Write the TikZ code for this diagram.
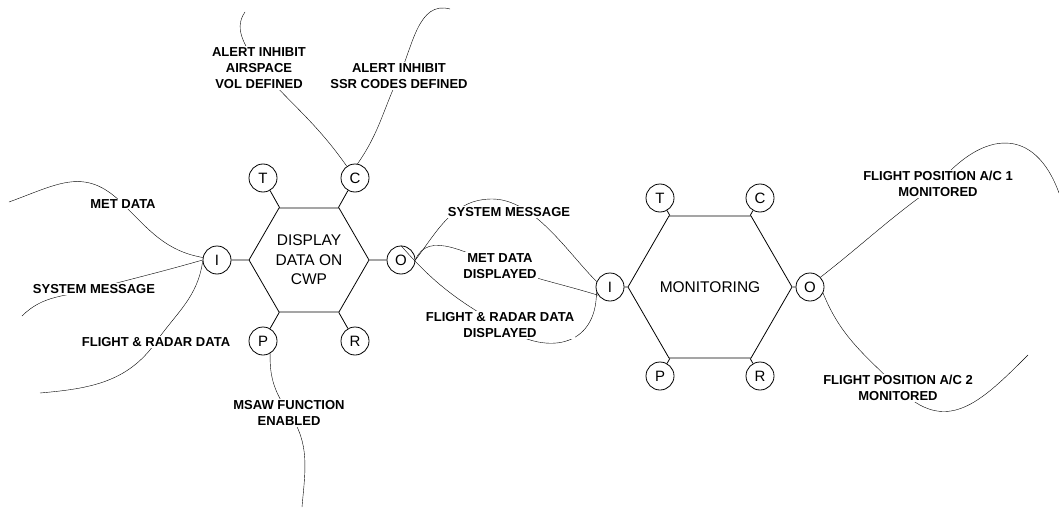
\documentclass[tikz,border=0pt]{standalone}
\usepackage{fontspec}
\setmainfont{Liberation Sans}
\usetikzlibrary{shapes.geometric,backgrounds}

\tikzset{
  func/.style={draw, regular polygon, regular polygon sides=6, inner sep=0pt, align=center, font=\fontsize{15.5}{19.5}\selectfont},
  port/.style={draw, circle, minimum size=28pt, inner sep=0pt, font=\fontsize{15}{18}\selectfont},
  lbl/.style={fill=white, inner sep=1pt, align=center, font=\fontsize{13}{16}\selectfont\bfseries}
}

\begin{document}
\begin{tikzpicture}[x=1pt, y=1pt, line width=0.8pt]
	\useasboundingbox (0,0) rectangle (1059,507);

	% functions
	\node[func, minimum size=120pt] at (309,247) (disp) {DISPLAY\\DATA ON\\CWP};
	\node[func, minimum size=132pt] at (710,220) (mon) {MONITORING};

	\node[port] at (263,329) (t1) {T};
	\node[port] at (355,329) (c1) {C};
	\node[port] at (217,247) (i1) {I};
	\node[port] at (401,247) (o1) {O};
	\node[port] at (263,166) (p1) {P};
	\node[port] at (355,166) (r1) {R};

	\node[port] at (660,309) (t2) {T};
	\node[port] at (760,309) (c2) {C};
	\node[port] at (610,220) (i2) {I};
	\node[port] at (810,220) (o2) {O};
	\node[port] at (660,131) (p2) {P};
	\node[port] at (760,131) (r2) {R};

	\draw (t1) -- (disp);
	\draw (c1) -- (disp);
	\draw (i1) -- (disp);
	\draw (o1) -- (disp);
	\draw (p1) -- (disp);
	\draw (r1) -- (disp);

	\draw (t2) -- (mon);
	\draw (c2) -- (mon);
	\draw (i2) -- (mon);
	\draw (o2) -- (mon);
	\draw (p2) -- (mon);
	\draw (r2) -- (mon);

	% labels
	\node[lbl] at (259,439) (airin) {ALERT INHIBIT\\AIRSPACE\\VOL DEFINED};
	\node[lbl] at (399,431) (ssrin) {ALERT INHIBIT\\SSR CODES DEFINED};
	\node[lbl] at (123,303) (metin) {MET DATA};
	\node[lbl] at (94,218) (sysin) {SYSTEM MESSAGE};
	\node[lbl] at (156,165) (frdin) {FLIGHT \& RADAR DATA};
	\node[lbl] at (289,94) (msawin) {MSAW FUNCTION\\ENABLED};
	\node[lbl] at (509,295) (smid) {SYSTEM MESSAGE};
	\node[lbl] at (500,241) (mdd) {MET DATA\\DISPLAYED};
	\node[lbl] at (500,182) (frdd) {FLIGHT \& RADAR DATA\\DISPLAYED};
	\node[lbl] at (938,323) (ac1) {FLIGHT POSITION A/C 1\\MONITORED};
	\node[lbl] at (898,119) (ac2) {FLIGHT POSITION A/C 2\\MONITORED};

	% loose ends
	\coordinate (metend) at (9,305);
	\coordinate (sysend) at (22,191);
	\coordinate (frdend) at (40,114);
	\coordinate (airend) at (245,495);
	\coordinate (ssrend) at (450,498);
	\coordinate (msawend) at (302,0);
	\coordinate (smtop) at (492,308);
	\coordinate (ac1end) at (1059,314);
	\coordinate (ac2end) at (1028,152);

	% couplings
	\begin{scope}[on background layer]
	\draw (i1) to[out=170,in=-45] (metin.center) to[out=135,in=20,looseness=1.2] (metend);
	\draw (i1.west) to[out=196,in=15] (sysin.center) to[out=195,in=45] (sysend);
	\draw (i1.185) to[out=262,in=55] (frdin.center) to[out=235,in=5] (frdend);
	\draw (c1) to[out=125,in=-48] (airin.center) to[out=120,in=235] (airend);
	\draw (c1.80) to[out=55,in=245] (ssrin.center) to[out=65,in=165] (ssrend);
	\draw (p1.-60) to[out=268,in=125] (msawin.center) to[out=305,in=85] (msawend);
	\draw (o1.east) to[out=53,in=180] (smtop) to[out=0,in=135,looseness=0.8] (i2.158);
	\draw (o1.east) to[out=68,in=160] (mdd.center) to[out=-20,in=163] (i2.215);
	\draw (o1.north) to[out=-49,in=150] (frdd.center) to[out=-35,in=-90,looseness=1.4] (i2.200);
	\draw (o2.43) to[out=38,in=215] (ac1.center) to[out=50,in=110,looseness=1.5] (ac1end);
	\draw (o2.-25) to[out=-68,in=135] (ac2.center) to[out=-45,in=225,looseness=1.3] (ac2end);
	\end{scope}
\end{tikzpicture}
\end{document}
